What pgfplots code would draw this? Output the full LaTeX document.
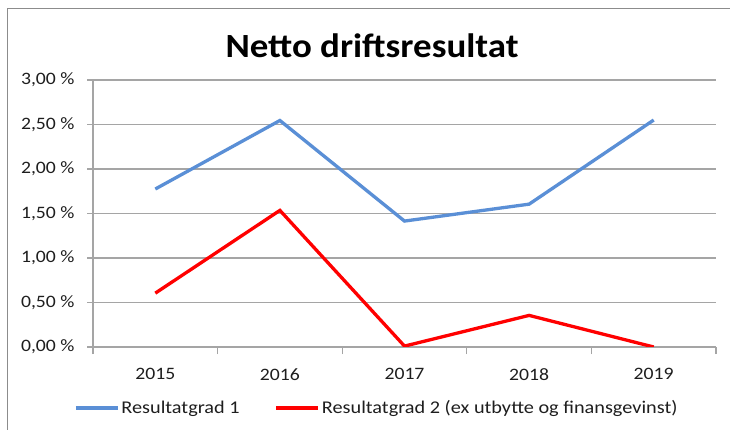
\documentclass[border=0pt]{standalone}
\usepackage{pgfplots}
\pgfplotsset{compat=1.18}
\usepackage{fontspec}
\setmainfont{Carlito}
\newfontfamily\lbl[FakeStretch=1.13]{Carlito}
\newfontfamily\ttl[FakeStretch=1.09]{Carlito}
\definecolor{gridgray}{RGB}{165,165,165}
\definecolor{frame}{RGB}{140,140,140}
\definecolor{lblue}{RGB}{90,143,214}
\definecolor{lred}{RGB}{255,0,0}
\definecolor{txt}{RGB}{30,30,30}
\begin{document}
\begin{tikzpicture}
\path[use as bounding box] (0,0) rectangle (730bp,430bp);
\fill[white] (0,0) rectangle (730bp,430bp);
\draw[frame, line width=1.3bp] (7.5bp,0) -- (7.5bp,421.5bp) -- (730bp,421.5bp);
\node[font=\ttl\fontsize{34}{40}\selectfont\bfseries, text=black] at (372bp,384bp) {Netto driftsresultat};
\begin{axis}[
  at={(93bp,83bp)}, anchor=south west,
  scale only axis, width=623bp, height=267bp,
  xmin=-0.5, xmax=4.5, ymin=0, ymax=3,
  axis x line*=bottom, axis y line*=left,
  axis line style={-, draw=gridgray, line width=1.2bp},
  xtick={0,1,2,3,4},
  xticklabels={2015,2016,2017,2018,2019},
  minor xtick={-0.5,0.5,1.5,2.5,3.5,4.5},
  major x tick style={draw=none},
  minor x tick style={draw=gridgray, line width=1.2bp},
  ytick={0,0.5,...,3},
  y tick style={draw=gridgray, line width=1.2bp},
  tick align=outside,
  major tick length=6bp, minor tick length=7bp,
  ymajorgrids,
  major grid style={draw=gridgray, line width=1.2bp},
  /pgf/number format/assume math mode=true,
  yticklabel={\pgfmathprintnumber[fixed,fixed zerofill,precision=2,use comma]{\tick}~\%},
  tick label style={font=\lbl\fontsize{17.5}{20}\selectfont, text=txt},
  xticklabel style={yshift=-12bp},
  yticklabel style={xshift=-9bp},
  legend columns=2,
  legend style={draw=none, fill=none, at={(-0.0305,-0.2285)}, anchor=west,
    inner sep=0pt, font=\lbl\fontsize{18}{20}\selectfont, text=txt,
    /tikz/every even column/.append style={column sep=33bp}},
  legend cell align=left,
  legend image code/.code={\draw[#1] (0bp,0bp) -- (42bp,0bp);},
]
\addplot[lblue, line width=3.3bp] coordinates {(0,1.775) (1,2.545) (2,1.415) (3,1.605) (4,2.55)};
\addplot[lred, line width=3.3bp] coordinates {(0,0.605) (1,1.535) (2,0.01) (3,0.355) (4,0.0)};
\legend{Resultatgrad 1, Resultatgrad 2 (ex utbytte og finansgevinst)}
\end{axis}
\end{tikzpicture}
\end{document}
